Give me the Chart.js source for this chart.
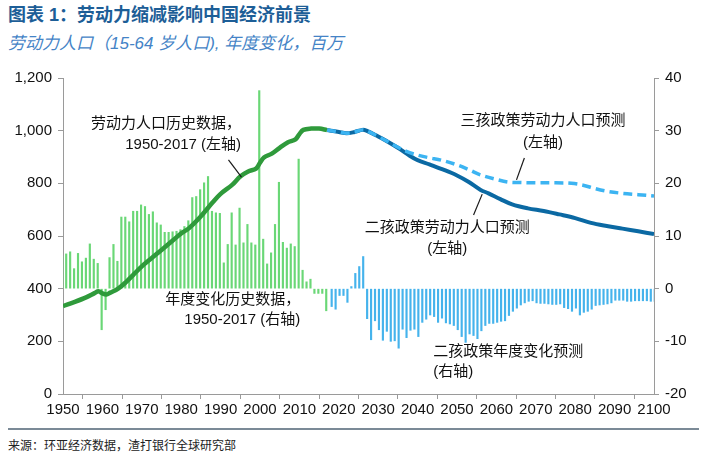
<!DOCTYPE html>
<html><head><meta charset="utf-8">
<script src="https://cdn.jsdelivr.net/npm/chart.js@4.4.0/dist/chart.umd.min.js"></script>
<style>
html,body{margin:0;padding:0;background:#fff;width:707px;height:462px;overflow:hidden;position:relative;font-family:"Liberation Sans","Noto Sans CJK SC",sans-serif}
#title{position:absolute;left:8px;top:0px;font-size:18px;font-weight:bold;color:#1d5e97;white-space:nowrap}
#sub{position:absolute;left:8px;top:29px;font-size:17px;font-style:italic;color:#4483c6;white-space:nowrap}
#c{position:absolute;left:0;top:60px}
#rule{position:absolute;left:8px;right:8px;top:428px;height:2px;background:#7b8a97}
#src{position:absolute;left:8px;top:436px;font-size:12px;color:#222;white-space:nowrap}
</style></head>
<body>
<div id="title">图表 1：劳动力缩减影响中国经济前景</div>
<div id="sub">劳动力人口（15-64 岁人口), 年度变化，百万</div>
<canvas id="c" width="707" height="370"></canvas>
<div id="rule"></div>
<div id="src">来源：环亚经济数据，渣打银行全球研究部</div>
<script>
// ---- data ----
const histStartYear = 1950;
const histChange = [6.1,6.6,7.0,3.8,6.7,5.1,5.8,8.5,5.6,4.8,-7.8,-4.0,5.9,8.4,5.2,13.6,13.6,12.7,14.7,14.7,15.9,15.6,14.1,14.6,12.5,12.1,10.7,10.7,10.8,10.9,11.2,11.8,12.9,17.3,17.5,18.8,20.1,21.3,14.7,14.4,14.3,4.9,8.4,14.4,8.3,15.3,8.7,12.2,8.7,8.3,37.6,9.4,4.7,6.8,12.2,20.2,8.8,7.7,8.5,8.0,24.6,3.5,1.3,1.8,-0.9,-0.9,-0.9,-4.2];
const forecastStartYear = 2018;
const forecastChange = [-3.4,-3.9,-1.3,-1.3,-2.6,0.4,2.9,4.2,6.1,-5.7,-9.7,-6.1,-7.8,-9.8,-8.1,-10.0,-9.9,-11.3,-7.7,-9.3,-7.9,-7.7,-9.1,-6.4,-5.8,-5.0,-5.3,-6.4,-5.6,-6.5,-6.7,-7.0,-7.8,-9.1,-10.2,-8.6,-8.9,-9.5,-8.0,-7.0,-6.6,-6.6,-6.4,-6.2,-6.1,-5.1,-4.3,-3.7,-3.1,-2.7,-2.4,-2.3,-2.7,-2.8,-2.8,-2.9,-3.0,-3.0,-2.9,-3.6,-3.8,-4.3,-3.7,-5.0,-4.5,-4.3,-3.9,-3.2,-3.1,-3.0,-2.9,-2.7,-2.2,-2.2,-2.2,-2.4,-2.4,-2.3,-2.3,-2.3,-2.3,-2.4,-2.4];
const histLineYears  = [1950,1953,1956,1958,1959,1960,1961,1962,1964,1966,1968,1970,1972,1975,1978,1980,1982,1985,1988,1990,1993,1995,1997,1999,2000,2001,2003,2005,2007,2009,2010,2011,2013,2015,2017];
const histLineValues = [334,350,368,383,390,382,378,385,400,425,455,485,510,547,585,610,630,675,728,760,795,826,845,856,878,898,913,935,955,967,987,1003,1008,1008,1002];
const twoChildYears  = [2017,2018,2020,2022,2024,2026,2027,2030,2032,2035,2038,2040,2043,2046,2050,2053,2056,2058,2061,2064,2068,2072,2076,2080,2084,2088,2092,2096,2100];
const twoChildValues = [1002,1000,995,990,995,1003,1000,978,962,935,905,888,872,855,830,805,775,762,740,720,705,695,682,668,650,638,628,618,607];
const threeChildYears  = [2017,2018,2020,2022,2024,2026,2027,2030,2032,2035,2037,2040,2043,2046,2050,2053,2056,2060,2063,2066,2070,2075,2079,2082,2085,2088,2092,2096,2100];
const threeChildValues = [1002,1000,995,990,995,1003,1000,978,962,937,922,907,897,888,870,852,832,815,805,803,802,802,800,793,780,770,762,757,752];
const leftTicks = [0,200,400,600,800,1000,1200];
const rightTicks = [-20,-10,0,10,20,30,40];
const xTicks = [1950,1960,1970,1980,1990,2000,2010,2020,2030,2040,2050,2060,2070,2080,2090,2100];

// ---- annotations (text placed in data coordinates: year / left-axis value) ----
const notes = [
  {lines:['劳动力人口历史数据，','1950-2017 (左轴)'], x:1995.2, ys:[1025,945], align:'right'},
  {lines:['年度变化历史数据，','1950-2017 (右轴)'], x:2010.2, ys:[357,281], align:'right'},
  {lines:['三孩政策劳动力人口预测','(左轴)'], x:2071.8, ys:[1037,953], align:'center'},
  {lines:['二孩政策劳动力人口预测','(左轴)'], x:2047.5, ys:[630,551], align:'center'},
  {lines:['二孩政策年度变化预测','(右轴)'], x:2044.0, ys:[159,84], align:'left'}
];
// leader lines from label to curve: [year, value] pairs
const leaders = [
  [[1992.0,889],[1995.3,824]],
  [[2067.1,896],[2065.1,813]],
  [[2054.2,680],[2056.4,759]]
];

const annot = {
  id:'annot',
  afterDraw(chart){
    const ctx = chart.ctx;
    const xs = chart.scales.x, ys = chart.scales.y;
    ctx.save();
    ctx.fillStyle = '#111';
    ctx.textBaseline = 'middle';
    ctx.font = '15px "Liberation Sans Narrow","Liberation Sans","Noto Sans CJK SC"';
    for (const n of notes) {
      ctx.textAlign = n.align;
      n.lines.forEach((t,i)=>{
        ctx.fillText(t, xs.getPixelForValue(n.x), ys.getPixelForValue(n.ys[i]));
      });
    }
    ctx.restore();
  }
};

const histBars = histChange.map((v,i)=>({x:histStartYear+i, y:v}));
const fcBars = forecastChange.map((v,i)=>({x:forecastStartYear+i, y:v}));
const pts = (xs,vs)=>xs.map((x,i)=>({x, y:vs[i]}));

const tickFont = {family:'"Liberation Sans Narrow","Liberation Sans",sans-serif', size:15};
const axisCol = '#9a9a9a';

const leaderSets = leaders.map(l=>({type:'line', data:l.map(p=>({x:p[0], y:p[1]})), yAxisID:'y', borderColor:'#1a1a1a', borderWidth:1.2, pointRadius:0, tension:0, order:0}));

new Chart(document.getElementById('c'), {
  type:'bar',
  data:{datasets:[
    ...leaderSets,
    {type:'line', data:pts(histLineYears,histLineValues), yAxisID:'y', borderColor:'#2f9a3b', borderWidth:4.5, pointRadius:0, tension:0.35, order:1},
    {type:'line', data:pts(threeChildYears,threeChildValues), yAxisID:'y', borderColor:'#3cb4f2', borderWidth:3.5, borderDash:[9,5], pointRadius:0, tension:0.35, order:2},
    {type:'line', data:pts(twoChildYears,twoChildValues), yAxisID:'y', borderColor:'#0b69a3', borderWidth:4, pointRadius:0, tension:0.35, order:3},
    {data:histBars, yAxisID:'y1', backgroundColor:'#6ad776', barThickness:1.5, order:10},
    {data:fcBars, yAxisID:'y1', backgroundColor:'#45b3ec', barThickness:1.5, order:11}
  ]},
  options:{
    responsive:false, animation:false, devicePixelRatio:1,
    layout:{padding:{top:18, left:0, right:0, bottom:0}},
    plugins:{legend:{display:false}, tooltip:{enabled:false}},
    scales:{
      x:{type:'linear', min:1950, max:2100, offset:false,
         afterBuildTicks(s){ s.ticks = xTicks.map(v=>({value:v})); },
         afterFit(s){ s.height = 36; },
         grid:{drawOnChartArea:false, drawTicks:true, tickLength:5, color:axisCol},
         border:{display:true, color:axisCol, width:1},
         ticks:{color:'#111', font:tickFont, padding:2, maxRotation:0, autoSkip:false, callback:v=>String(v)}},
      y:{type:'linear', position:'left', min:0, max:1200,
         afterBuildTicks(s){ s.ticks = leftTicks.map(v=>({value:v})); },
         afterFit(s){ s.width = 63; },
         grid:{drawOnChartArea:false, drawTicks:true, tickLength:5, color:axisCol},
         border:{display:true, color:axisCol, width:1},
         ticks:{color:'#111', font:tickFont, padding:6, callback:v=>v.toLocaleString('en-US')}},
      y1:{type:'linear', position:'right', min:-20, max:40,
         afterBuildTicks(s){ s.ticks = rightTicks.map(v=>({value:v})); },
         afterFit(s){ s.width = 53; },
         grid:{drawOnChartArea:false, drawTicks:true, tickLength:5, color:axisCol},
         border:{display:true, color:axisCol, width:1},
         ticks:{color:'#111', font:tickFont, padding:6, callback:v=>String(v)}}
    }
  },
  plugins:[annot]
});
</script>
</body></html>
